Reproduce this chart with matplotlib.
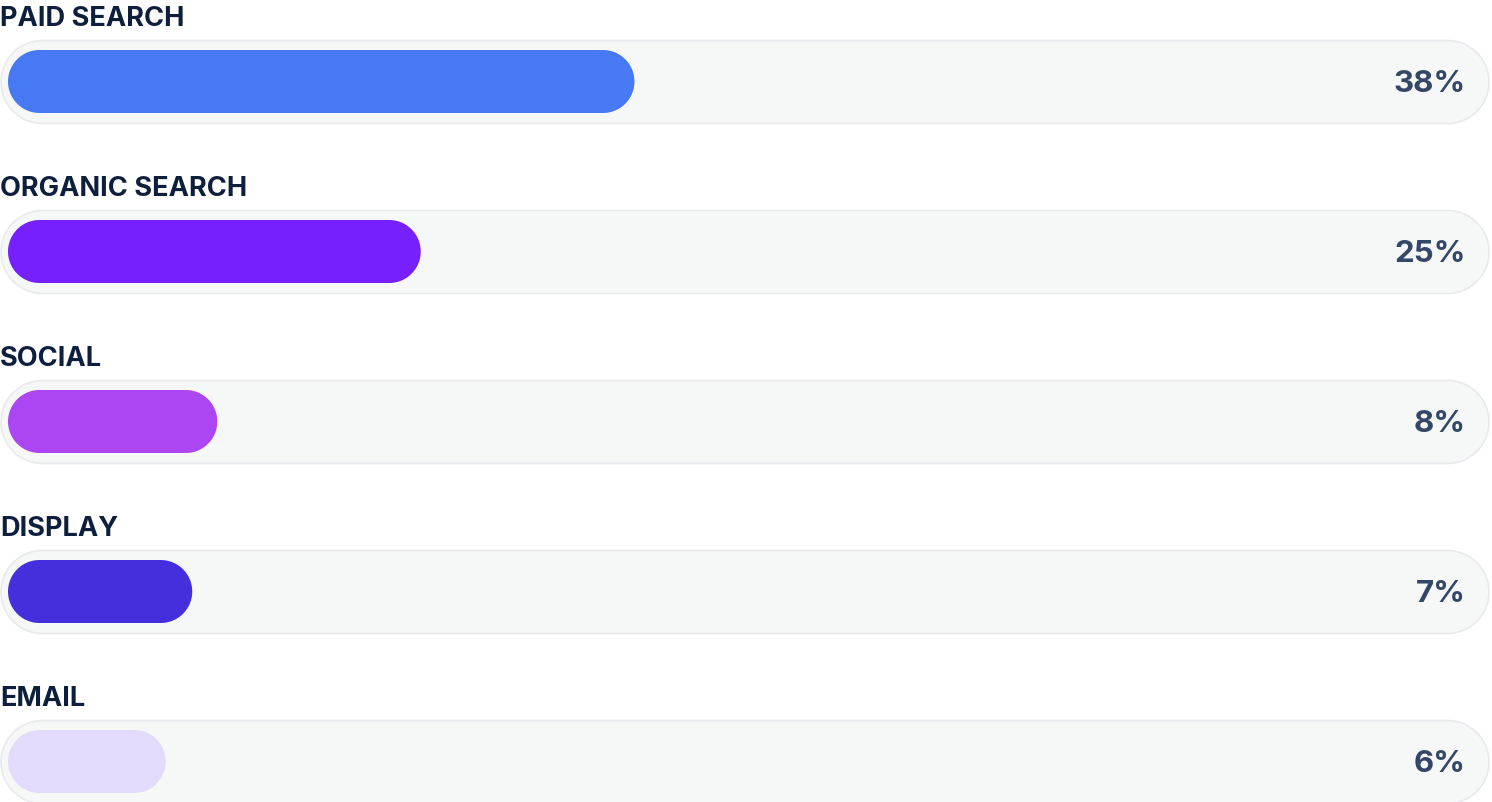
#
#   Traffic share by channel, drawn as rounded progress bars
#

from matplotlib import pyplot as plt
from matplotlib.patches import Polygon
import numpy as np

#   DATA
#
channels = ["PAID SEARCH", "ORGANIC SEARCH", "SOCIAL", "DISPLAY", "EMAIL"]
# Percent shown at the right of each track
shares = [38, 25, 8, 7, 6]
# Filled part of each track in percent (read off the picture, not proportional to the label)
fill = [42.5, 28.0, 14.2, 12.5, 10.7]
colors = ["#4679F3", "#7620FE", "#AC45F2", "#452FDD", "#E3DBFB"]

#   LAYOUT (pixels, converted to data units below)
#
W, H = 1492, 802
S = 14.74            # pixels per percent unit
BAR_X0 = 8           # left end of the coloured bar
ROW = 170            # vertical spacing of rows
TRACK_TOP, TRACK_H = 40.5, 83
BAR_TOP, BAR_H = 50, 63
TRACK_RIGHT = 1490

px = lambda v: v / S


# Stadium shape (rectangle with half-circle ends) as polygon vertices
def stadium(x, y, w, h, n=60):
    r = h / 2
    t = np.linspace(-np.pi / 2, np.pi / 2, n)
    right = np.column_stack([x + w - r + r * np.cos(t), y + r + r * np.sin(t)])
    left = np.column_stack([x + r - r * np.cos(t), y + r - r * np.sin(t)])
    return np.vstack([right, left])


fig = plt.figure(figsize=(W / 100, H / 100), dpi=100)
ax = fig.add_axes([0, 0, 1, 1])
# x runs in percent of the track, origin at the bar start
ax.set_xlim(px(-BAR_X0), px(W - BAR_X0))
ax.set_ylim(px(H), 0)
ax.set_aspect("equal")
ax.axis("off")

for i, (name, share, f, c) in enumerate(zip(channels, shares, fill, colors)):
    off = ROW * i
    # Background track
    ax.add_patch(Polygon(stadium(px(-BAR_X0 + 1), px(TRACK_TOP + off),
                                 px(TRACK_RIGHT - 2), px(TRACK_H)),
                         closed=True, facecolor="#F6F7F7", edgecolor="#EAEAEE",
                         linewidth=1.2))
    # Coloured bar
    ax.add_patch(Polygon(stadium(0, px(BAR_TOP + off), f, px(BAR_H)),
                         closed=True, facecolor=c, edgecolor="none"))
    # Channel label above the track
    ax.text(px(-BAR_X0), px(26 + off), name, ha="left", va="baseline",
            fontsize=19.6, fontweight="bold", family="Inter", color="#0E1F3D")
    # Percent at the right
    ax.text(px(1466 - BAR_X0), px(92 + off), "{}%".format(share), ha="right",
            va="baseline", fontsize=22.5, fontweight="bold", family="Inter",
            color="#344766")

fig.savefig("out.png", dpi=100, facecolor="white")
